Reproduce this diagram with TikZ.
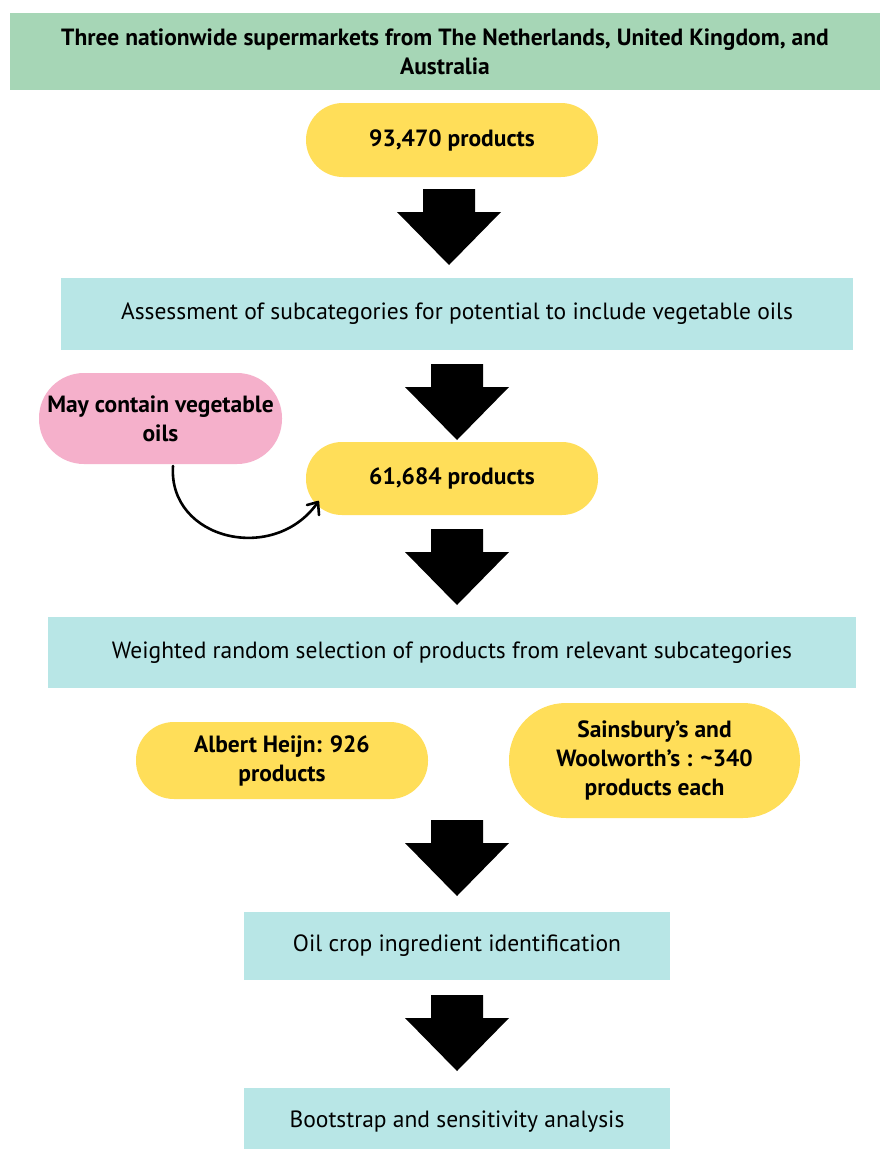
\documentclass[tikz,border=0pt]{standalone}
\usepackage{fontspec}
\setmainfont{PT Sans}
\definecolor{hgreen}{HTML}{A6D6B6}
\definecolor{bcyan}{HTML}{B8E6E6}
\definecolor{pyellow}{HTML}{FFDE59}
\definecolor{ppink}{HTML}{F5B0CB}
\begin{document}
\begin{tikzpicture}[x=1pt,y=-1pt,
  boldtxt/.style={font=\fontsize{23.5}{29}\selectfont\bfseries, text=black, align=center, inner sep=0pt},
  regtxt/.style={font=\fontsize{23.5}{29}\selectfont, text=black, align=center, inner sep=0pt},
  stepbox/.style={regtxt, fill=bcyan, draw=none},
  pill/.style={boldtxt, fill=pyellow, draw=none},
  blockarrow/.pic={\fill[black] (-26,0) -- (26,0) -- (26,23) -- (52,23) -- (0,76) -- (-52,23) -- (-26,23) -- cycle;}
]
\useasboundingbox (0,0) rectangle (880,1149);
\fill[white] (0,0) rectangle (880,1149);
% header
\node[boldtxt, fill=hgreen, minimum width=870, minimum height=77] (head) at (445,51.5) {Three nationwide supermarkets from The Netherlands, United Kingdom, and\\Australia};
% pill 1
\node[pill, minimum width=292, minimum height=74, rounded corners=37] (p1) at (452,140) {93,470 products};
\pic at (449,189) {blockarrow};
% box 2
\node[stepbox, minimum width=792, minimum height=72] (b2) at (457,314) {Assessment of subcategories for potential to include vegetable oils};
\pic at (457,364) {blockarrow};
% pink pill
\node[boldtxt, fill=ppink, minimum width=243, minimum height=91, rounded corners=45] (pk) at (160.5,418.5) {May contain vegetable\\oils};
% pill 2
\node[pill, minimum width=292, minimum height=73, rounded corners=36] (p2) at (452,478.5) {61,684 products};
\coordinate (cs) at (173,466);
\coordinate (ce) at (318,502);
\draw[line width=2.6pt, line cap=round] (cs) .. controls (168,540) and (275,565) .. (ce);
\draw[line width=2.6pt, line cap=round, line join=round] (307,505) -- (ce) -- (319,515);
\pic at (457,529) {blockarrow};
% box 3
\node[stepbox, minimum width=808, minimum height=71] (b3) at (452,652.5) {Weighted random selection of products from relevant subcategories};
% two pills
\node[pill, minimum width=292, minimum height=77, rounded corners=38] (ah) at (282,760.5) {Albert Heijn: 926\\products};
\node[pill, minimum width=291, minimum height=115, rounded corners=57] (sw) at (654.5,760.5) {Sainsbury’s and\\Woolworth’s : \textasciitilde340\\products each};
\pic at (457,820) {blockarrow};
% box 4
\node[stepbox, minimum width=426, minimum height=68] (b4) at (457,946) {Oil crop ingredient identification};
\pic at (457,995) {blockarrow};
% box 5
\node[stepbox, minimum width=426, minimum height=68] (b5) at (457,1122) {Bootstrap and sensitivity analysis};
\end{tikzpicture}
\end{document}
